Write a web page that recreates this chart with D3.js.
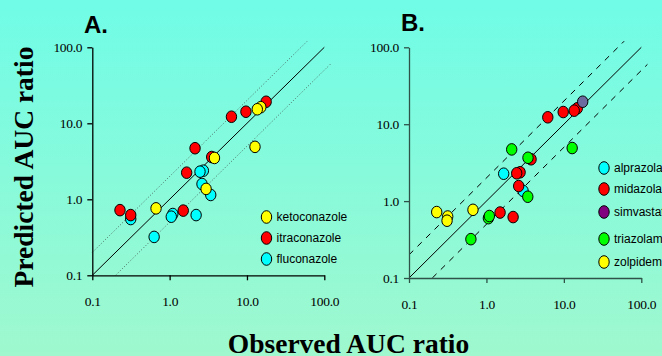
<!DOCTYPE html>
<html lang="en">
<head>
<meta charset="utf-8" />
<title>Predicted vs observed AUC ratio</title>
<style>
  body { margin: 0; }
  svg { display: block; }
</style>
</head>
<body>
<div id="chart"></div>
<script src="https://d3js.org/d3.v7.min.js"></script>
<script>
  // panel A: [observed, predicted] AUC ratios, by inhibitor
  const ketoconazole = [[15.1, 16.3], [13.6, 15.3], [12.7, 4.9], [3.8, 3.5], [2.96, 1.37], [0.667, 0.76]];
  const itraconazole = [[17.7, 19.2], [9.7, 14.2], [6.3, 12.2], [2.13, 4.7], [3.5, 3.6], [1.66, 2.24],
                        [0.228, 0.72], [0.314, 0.62], [1.5, 0.71]];
  const fluconazole = [[2.73, 2.38], [2.47, 2.31], [2.62, 1.59], [3.4, 1.14], [0.314, 0.55],
                       [1.1, 0.64], [1.05, 0.59], [2.2, 0.62], [0.63, 0.32]];

  // panel B: same ratios, by substrate
  const alprazolam = [[1.67, 2.27], [2.97, 1.36]];
  const midazolam = [[14.9, 16.1], [13.6, 15.0], [9.8, 14.4], [6.2, 12.3], [3.77, 3.5], [2.72, 2.37],
                     [2.46, 2.3], [2.61, 1.57], [1.5, 0.71], [2.21, 0.62]];
  const simvastatin = [[17.5, 19.6]];
  const triazolam = [[2.12, 4.7], [12.8, 4.9], [3.44, 3.66], [3.42, 1.14], [1.06, 0.6], [1.09, 0.64], [0.63, 0.32]];
  const zolpidem = [[0.228, 0.72], [0.316, 0.63], [0.31, 0.556], [0.67, 0.77]];

  const tickValues = [0.1, 1, 10, 100];
  const tickLabels = ['0.1', '1.0', '10.0', '100.0'];
  const unityLine = [[0.1, 0.1], [100, 100]];
  const upperLine = [[0.1, 0.2], [60, 120]];
  const lowerLine = [[0.2, 0.1], [120, 60]];

  const width = 662;
  const height = 356;

  const svg = d3.select('#chart')
    .append('svg')
    .attr('width', width)
    .attr('height', height);

  const grad = svg.append('defs').append('linearGradient')
    .attr('id', 'bg')
    .attr('x1', 0).attr('y1', 0).attr('x2', 0).attr('y2', 1);
  grad.append('stop').attr('offset', '0%').attr('stop-color', '#70fce7');
  grad.append('stop').attr('offset', '100%').attr('stop-color', '#9ff8ce');

  svg.append('rect')
    .attr('width', width)
    .attr('height', height)
    .attr('fill', 'url(#bg)');

  function drawPanel(opts) {
    const x = d3.scaleLog().domain([0.1, 100]).range(opts.xRange);
    const y = d3.scaleLog().domain([0.1, 100]).range(opts.yRange);
    const g = svg.append('g');

    const line = d3.line().x(d => x(d[0])).y(d => y(d[1]));

    g.append('path').datum(unityLine)
      .attr('d', line)
      .attr('fill', 'none')
      .attr('stroke', '#000')
      .attr('stroke-width', 1);

    [upperLine, lowerLine].forEach(l => {
      g.append('path').datum(l)
        .attr('d', line)
        .attr('fill', 'none')
        .attr('stroke', opts.guideColor)
        .attr('stroke-width', 1)
        .attr('stroke-dasharray', opts.dash);
    });

    const fmt = d => tickLabels[tickValues.indexOf(d)];

    const yAxis = g.append('g')
      .attr('transform', `translate(${opts.xRange[0]},0)`)
      .call(d3.axisLeft(y).tickValues(tickValues).tickFormat(fmt).tickSize(5).tickSizeOuter(0).tickPadding(5));

    const xAxis = g.append('g')
      .attr('transform', `translate(0,${opts.yRange[0]})`)
      .call(d3.axisBottom(x).tickValues(tickValues).tickFormat(fmt).tickSize(5).tickSizeOuter(0).tickPadding(16));

    [yAxis, xAxis].forEach(a => {
      a.selectAll('path, line').attr('stroke', opts.axisColor).attr('stroke-width', 1.3);
      a.selectAll('text')
        .attr('fill', '#000')
        .style('font-family', '"Liberation Serif", "Times New Roman", serif')
        .style('font-size', '13.5px')
        .style('letter-spacing', '-0.3px');
    });

    opts.series.forEach(s => {
      g.append('g').selectAll('ellipse')
        .data(s.values)
        .enter()
        .append('ellipse')
        .attr('cx', d => x(d[0]))
        .attr('cy', d => y(d[1]))
        .attr('rx', 5.2)
        .attr('ry', 5.8)
        .attr('fill', s.pointColor || s.color)
        .attr('stroke', '#000')
        .attr('stroke-width', 1);
    });

    const legend = g.selectAll('.legend')
      .data(opts.legend)
      .enter()
      .append('g')
      .attr('class', 'legend')
      .attr('transform', (d, i) => `translate(${opts.legendX},${opts.legendY[i]})`);

    legend.append('ellipse')
      .attr('rx', 5.2)
      .attr('ry', 6.3)
      .attr('fill', d => d.color)
      .attr('stroke', '#000')
      .attr('stroke-width', 1);

    legend.append('text')
      .attr('x', 10)
      .attr('dy', '0.35em')
      .style('font-family', '"Liberation Sans", Arial, sans-serif')
      .style('font-size', '12px')
      .text(d => d.name);

    svg.append('text')
      .attr('x', opts.titleX)
      .attr('y', opts.titleY)
      .style('font-family', '"Liberation Sans", Arial, sans-serif')
      .style('font-weight', 'bold')
      .style('font-size', '24px')
      .text(opts.title);
  }

  const seriesA = [
    { name: 'fluconazole', color: '#00ffff', values: fluconazole },
    { name: 'itraconazole', color: '#ff0000', values: itraconazole },
    { name: 'ketoconazole', color: '#ffff00', values: ketoconazole }
  ];

  drawPanel({
    title: 'A.', titleX: 84, titleY: 33,
    xRange: [92.3, 324.3], yRange: [275.3, 47.3],
    axisColor: '#000', guideColor: '#4a6a60', dash: '1,2',
    series: seriesA,
    legend: [seriesA[2], seriesA[1], seriesA[0]],
    legendX: 266.5, legendY: [217, 238, 259]
  });

  const seriesB = [
    { name: 'alprazolam', color: '#00ffff', values: alprazolam },
    { name: 'midazolam', color: '#ff0000', values: midazolam },
    { name: 'simvastatin', color: '#800080', pointColor: '#6b6ba0', values: simvastatin },
    { name: 'triazolam', color: '#00ff00', values: triazolam },
    { name: 'zolpidem', color: '#ffff00', values: zolpidem }
  ];

  drawPanel({
    title: 'B.', titleX: 401, titleY: 30.7,
    xRange: [409, 641.3], yRange: [278, 47.3],
    axisColor: '#2e5248', guideColor: '#000', dash: '6,6',
    series: seriesB,
    legend: seriesB,
    legendX: 604, legendY: [168, 189, 212, 239, 262]
  });

  svg.append('text')
    .attr('transform', 'translate(33,167) rotate(-90)')
    .attr('text-anchor', 'middle')
    .style('font-family', '"Liberation Serif", "Times New Roman", serif')
    .style('font-weight', 'bold')
    .style('font-size', '27.5px')
    .text('Predicted AUC ratio');

  svg.append('text')
    .attr('x', 348.5)
    .attr('y', 353)
    .attr('text-anchor', 'middle')
    .style('font-family', '"Liberation Serif", "Times New Roman", serif')
    .style('font-weight', 'bold')
    .style('font-size', '27.5px')
    .text('Observed AUC ratio');
</script>
</body>
</html>
